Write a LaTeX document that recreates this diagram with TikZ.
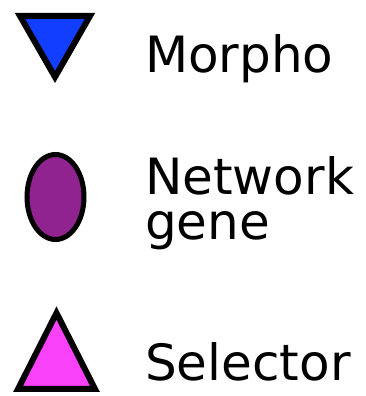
\documentclass[tikz,border=0pt]{standalone}
\usepackage{fontspec}
\setmainfont{DejaVu Sans}
\definecolor{morphoblue}{RGB}{18,62,255}
\definecolor{netpurple}{RGB}{145,35,145}
\definecolor{selmagenta}{RGB}{250,65,250}
\begin{document}
\begin{tikzpicture}[x=1pt,y=1pt,
  shapeline/.style={draw=black,line width=6pt,line join=miter},
  label/.style={anchor=base west,inner sep=0pt,font=\fontsize{50}{45}\selectfont,align=left}]
\useasboundingbox (0,0) rectangle (366,396);
% Morpho: down triangle
\draw[shapeline,fill=morphoblue] (20,380) -- (90,380) -- (55,319) -- cycle;
% Network gene: ellipse
\draw[draw=black,line width=5pt,fill=netpurple] (55.5,199) ellipse [x radius=28.5, y radius=42.5];
% Selector: up triangle
\draw[shapeline,fill=selmagenta] (18,7) -- (95,7) -- (56.5,83) -- cycle;
% labels
\node[label] (morpho) at (145,323) {Morpho};
\node[label] (network) at (145,156) {Network\\gene};
\node[label] (selector) at (145,15) {Selector};
\end{tikzpicture}
\end{document}
